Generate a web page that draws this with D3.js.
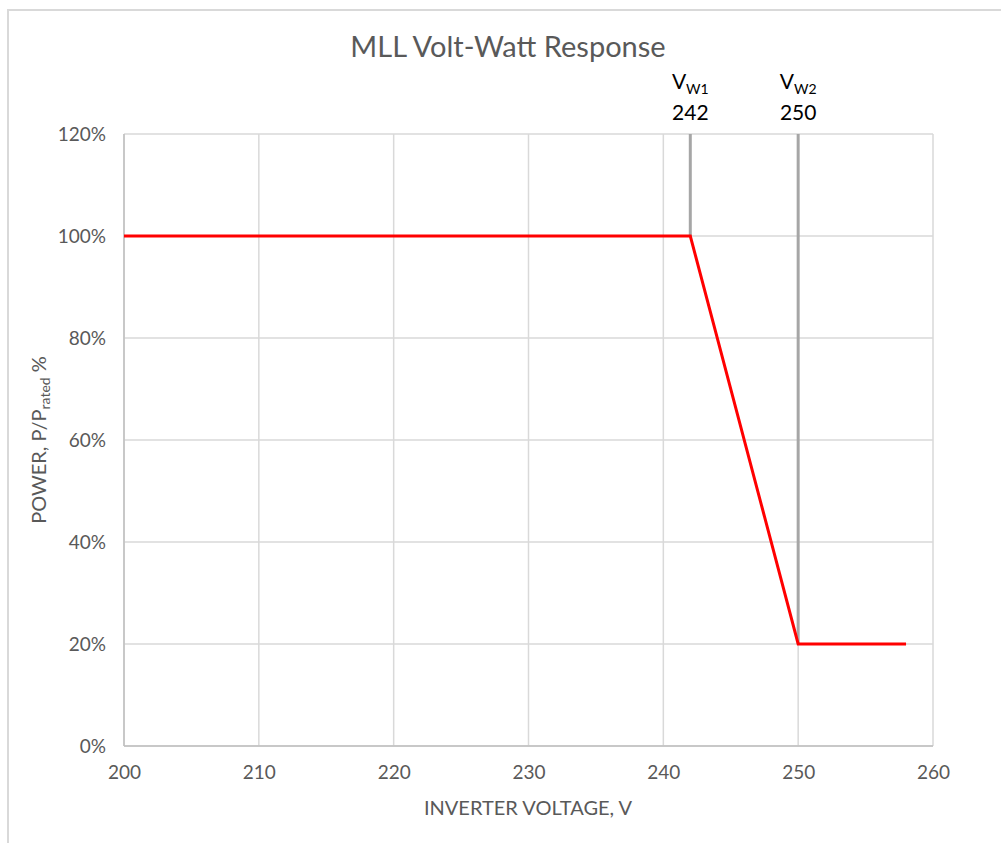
<!DOCTYPE html>
<html lang="en">
<head>
  <meta charset="UTF-8">
  <title>MLL Volt-Watt Response</title>
  <style>
    body { margin: 0; background: #fff; }
    svg { font-family: Lato, "Open Sans", sans-serif; }
  </style>
</head>
<body>
  <svg id="chart" width="1001" height="843"></svg>

  <script src="https://d3js.org/d3.v7.min.js"></script>
  <script>
    // curve points (voltage, percent)
    const voltage = [200, 242, 250, 258];
    const power = [100, 100, 20, 20];

    // setpoint markers
    const markerNames = ["W1", "W2"];
    const markerVolts = [242, 250];
    const markerPower = [100, 20];

    const xTicks = [200, 210, 220, 230, 240, 250, 260];
    const yTicks = [0, 20, 40, 60, 80, 100, 120];

    const svg = d3.select("#chart");

    // chart area border (only left and top visible)
    svg.append("path")
      .attr("d", "M8,843 V10 H1001")
      .attr("fill", "none")
      .attr("stroke", "#d9d9d9")
      .attr("stroke-width", 2);

    const x = d3.scaleLinear().domain([200, 260]).range([124, 933]);
    const y = d3.scaleLinear().domain([0, 120]).range([746, 134]);

    // gridlines
    svg.append("g").selectAll("line")
      .data(xTicks)
      .enter()
      .append("line")
      .attr("x1", d => x(d)).attr("x2", d => x(d))
      .attr("y1", y(0)).attr("y2", y(120))
      .attr("stroke", "#d9d9d9").attr("stroke-width", 1.5);

    svg.append("g").selectAll("line")
      .data(yTicks)
      .enter()
      .append("line")
      .attr("x1", x(200)).attr("x2", x(260))
      .attr("y1", d => y(d)).attr("y2", d => y(d))
      .attr("stroke", "#d9d9d9").attr("stroke-width", 1.5);

    // axis lines
    svg.append("line")
      .attr("x1", x(200)).attr("x2", x(200))
      .attr("y1", y(0)).attr("y2", y(120))
      .attr("stroke", "#bfbfbf").attr("stroke-width", 1.5);
    svg.append("line")
      .attr("x1", x(200)).attr("x2", x(260))
      .attr("y1", y(0)).attr("y2", y(0))
      .attr("stroke", "#bfbfbf").attr("stroke-width", 1.5);

    // axes (labels only)
    function styleAxis(g) {
      g.select(".domain").remove();
      g.attr("font-family", null).attr("font-size", 19);
      g.selectAll("text").attr("fill", "#595959");
    }

    const xAxis = d3.axisBottom(x).tickValues(xTicks).tickSize(0).tickPadding(20);
    svg.append("g").attr("transform", `translate(0,${y(0)})`).call(xAxis).call(styleAxis);

    const yAxis = d3.axisLeft(y).tickValues(yTicks).tickSize(0).tickPadding(18)
      .tickFormat(d => d + "%");
    svg.append("g").attr("transform", `translate(${x(200)},0)`).call(yAxis).call(styleAxis);

    // marker lines
    svg.append("g").selectAll("line")
      .data(markerVolts)
      .enter()
      .append("line")
      .attr("x1", d => x(d)).attr("x2", d => x(d))
      .attr("y1", y(120))
      .attr("y2", (d, i) => y(markerPower[i]))
      .attr("stroke", "#a6a6a6").attr("stroke-width", 3);

    // response curve
    const line = d3.line()
      .x(d => x(d[0]))
      .y(d => y(d[1]));
    svg.append("path")
      .datum(voltage.map((v, i) => [v, power[i]]))
      .attr("d", line)
      .attr("fill", "none")
      .attr("stroke", "#ff0000")
      .attr("stroke-width", 3);

    // marker labels
    const labels = svg.append("g").selectAll("g")
      .data(markerVolts)
      .enter()
      .append("g");

    labels.append("text")
      .attr("x", d => x(d))
      .attr("y", 89)
      .attr("text-anchor", "middle")
      .attr("font-size", 21)
      .attr("fill", "#000")
      .each(function (d, i) {
        const t = d3.select(this);
        t.append("tspan").text("V");
        t.append("tspan").attr("font-size", 14).attr("dy", 5).text(markerNames[i]);
      });

    labels.append("text")
      .attr("x", d => x(d))
      .attr("y", 120)
      .attr("text-anchor", "middle")
      .attr("font-size", 21)
      .attr("fill", "#000")
      .text(d => d);

    // title
    svg.append("text")
      .attr("x", 508)
      .attr("y", 57)
      .attr("text-anchor", "middle")
      .attr("font-size", 29)
      .attr("fill", "#595959")
      .text("MLL Volt-Watt Response");

    // axis titles
    svg.append("text")
      .attr("x", 528)
      .attr("y", 815)
      .attr("text-anchor", "middle")
      .attr("font-size", 20)
      .attr("fill", "#595959")
      .text("INVERTER VOLTAGE, V");

    const yt = svg.append("text")
      .attr("transform", "translate(46,440) rotate(-90)")
      .attr("text-anchor", "middle")
      .attr("font-size", 20)
      .attr("fill", "#595959");
    yt.append("tspan").text("POWER, P/P");
    yt.append("tspan").attr("font-size", 14).attr("dy", 4).text("rated");
    yt.append("tspan").attr("dy", -4).text(" %");
  </script>
</body>
</html>
